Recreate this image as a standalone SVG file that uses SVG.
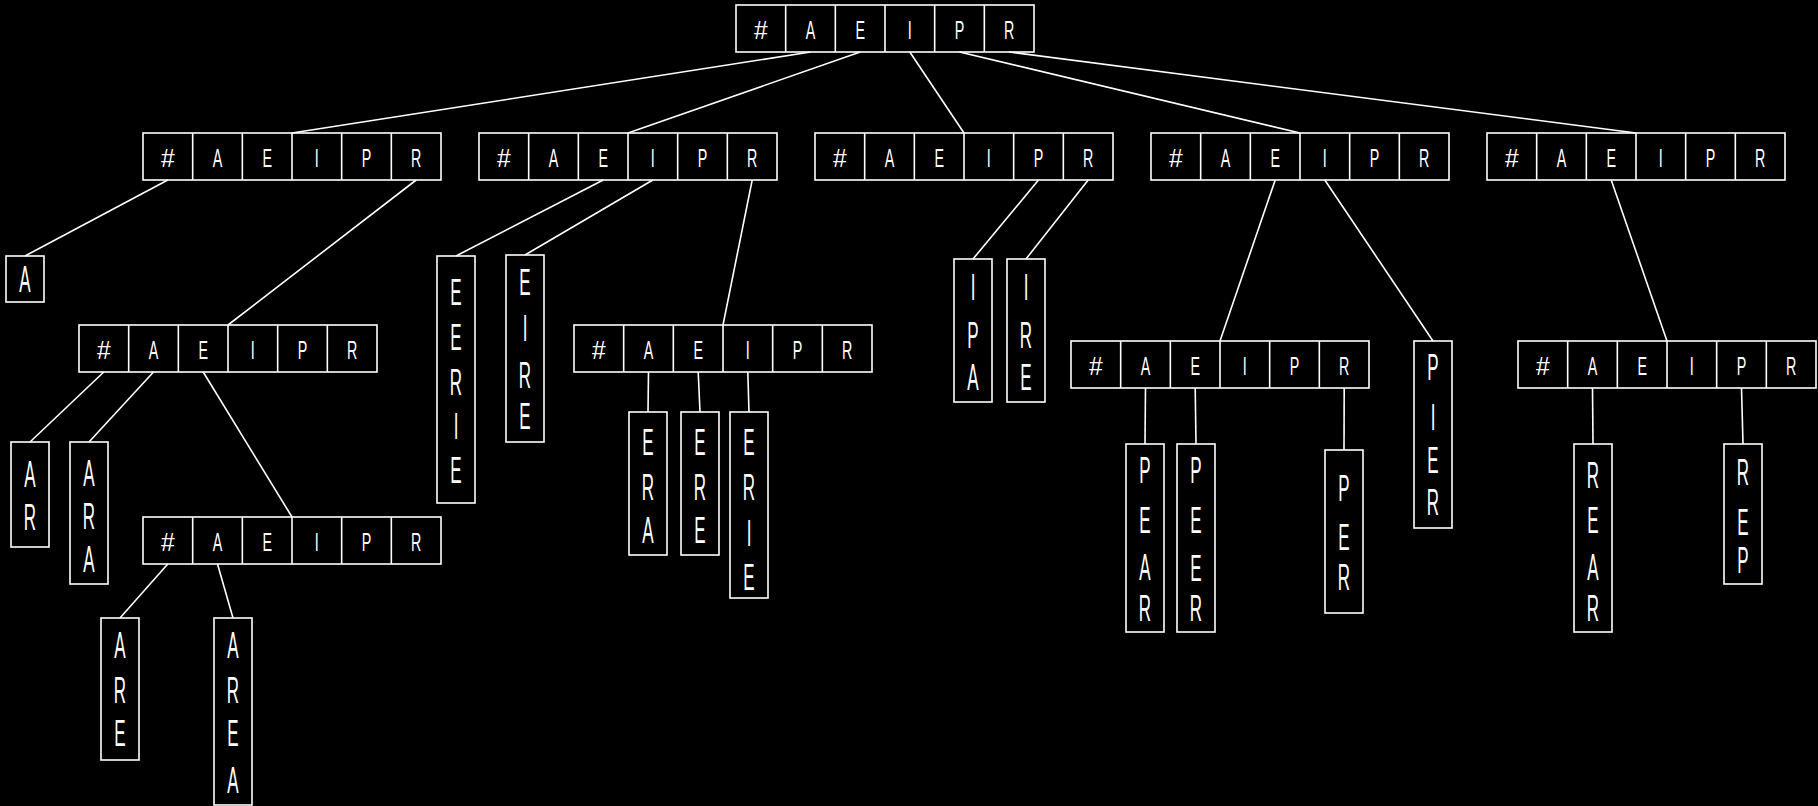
<svg xmlns="http://www.w3.org/2000/svg" width="1818" height="806" viewBox="0 0 1818 806">
<style>
.bg{fill:#000;stroke:none}
g rect,g path,g line{fill:none;stroke:#fff;stroke-width:1.6}
text{fill:#fff;font-family:"Liberation Sans",Arial,sans-serif;text-anchor:middle}
.r text{font-size:26px}
.l text{font-size:37px}
</style>
<rect class="bg" x="0" y="0" width="1818" height="806"/>
<g id="connectors">
<line x1="810.5" y1="52" x2="292" y2="133"/>
<line x1="860.2" y1="52" x2="628" y2="133"/>
<line x1="909.8" y1="52" x2="964" y2="133"/>
<line x1="959.5" y1="52" x2="1300" y2="133"/>
<line x1="1009.2" y1="52" x2="1636" y2="133"/>
<line x1="167.8" y1="180" x2="25" y2="256"/>
<line x1="416.2" y1="180" x2="228" y2="325"/>
<line x1="103.8" y1="372" x2="30" y2="442"/>
<line x1="153.5" y1="372" x2="89" y2="442"/>
<line x1="203.2" y1="372" x2="292" y2="517"/>
<line x1="167.8" y1="564" x2="120" y2="618"/>
<line x1="217.5" y1="564" x2="233" y2="618"/>
<line x1="603.2" y1="180" x2="456" y2="256"/>
<line x1="652.8" y1="180" x2="525" y2="255"/>
<line x1="752.2" y1="180" x2="723" y2="325"/>
<line x1="648.5" y1="372" x2="648" y2="412"/>
<line x1="698.2" y1="372" x2="700" y2="412"/>
<line x1="747.8" y1="372" x2="749" y2="412"/>
<line x1="1038.5" y1="180" x2="973" y2="259"/>
<line x1="1088.2" y1="180" x2="1026" y2="259"/>
<line x1="1275.2" y1="180" x2="1220" y2="341"/>
<line x1="1324.8" y1="180" x2="1433" y2="341"/>
<line x1="1145.5" y1="388" x2="1145" y2="444"/>
<line x1="1195.2" y1="388" x2="1196" y2="444"/>
<line x1="1344.2" y1="388" x2="1344" y2="450"/>
<line x1="1611.2" y1="180" x2="1667" y2="341"/>
<line x1="1592.5" y1="388" x2="1593" y2="444"/>
<line x1="1741.5" y1="388" x2="1743" y2="444"/>
</g>

<g id="root" class="r">
<rect x="736" y="5" width="298" height="47"/>
<path d="M785.67 5v47M835.33 5v47M885 5v47M934.67 5v47M984.33 5v47"/>
<text transform="translate(760.8 39) scale(.95 1)">#</text>
<text transform="translate(810.5 39) scale(.55 1)">A</text>
<text transform="translate(860.2 39) scale(.55 1)">E</text>
<text transform="translate(909.8 39) scale(.55 1)">I</text>
<text transform="translate(959.5 39) scale(.55 1)">P</text>
<text transform="translate(1009.2 39) scale(.55 1)">R</text>
</g>

<g id="n_a" class="r">
<rect x="143" y="133" width="298" height="47"/>
<path d="M192.67 133v47M242.33 133v47M292 133v47M341.67 133v47M391.33 133v47"/>
<text transform="translate(167.8 167) scale(.95 1)">#</text>
<text transform="translate(217.5 167) scale(.55 1)">A</text>
<text transform="translate(267.2 167) scale(.55 1)">E</text>
<text transform="translate(316.8 167) scale(.55 1)">I</text>
<text transform="translate(366.5 167) scale(.55 1)">P</text>
<text transform="translate(416.2 167) scale(.55 1)">R</text>
</g>

<g id="n_e" class="r">
<rect x="479" y="133" width="298" height="47"/>
<path d="M528.67 133v47M578.33 133v47M628 133v47M677.67 133v47M727.33 133v47"/>
<text transform="translate(503.8 167) scale(.95 1)">#</text>
<text transform="translate(553.5 167) scale(.55 1)">A</text>
<text transform="translate(603.2 167) scale(.55 1)">E</text>
<text transform="translate(652.8 167) scale(.55 1)">I</text>
<text transform="translate(702.5 167) scale(.55 1)">P</text>
<text transform="translate(752.2 167) scale(.55 1)">R</text>
</g>

<g id="n_i" class="r">
<rect x="815" y="133" width="298" height="47"/>
<path d="M864.67 133v47M914.33 133v47M964 133v47M1013.67 133v47M1063.33 133v47"/>
<text transform="translate(839.8 167) scale(.95 1)">#</text>
<text transform="translate(889.5 167) scale(.55 1)">A</text>
<text transform="translate(939.2 167) scale(.55 1)">E</text>
<text transform="translate(988.8 167) scale(.55 1)">I</text>
<text transform="translate(1038.5 167) scale(.55 1)">P</text>
<text transform="translate(1088.2 167) scale(.55 1)">R</text>
</g>

<g id="n_p" class="r">
<rect x="1151" y="133" width="298" height="47"/>
<path d="M1200.67 133v47M1250.33 133v47M1300 133v47M1349.67 133v47M1399.33 133v47"/>
<text transform="translate(1175.8 167) scale(.95 1)">#</text>
<text transform="translate(1225.5 167) scale(.55 1)">A</text>
<text transform="translate(1275.2 167) scale(.55 1)">E</text>
<text transform="translate(1324.8 167) scale(.55 1)">I</text>
<text transform="translate(1374.5 167) scale(.55 1)">P</text>
<text transform="translate(1424.2 167) scale(.55 1)">R</text>
</g>

<g id="n_r" class="r">
<rect x="1487" y="133" width="298" height="47"/>
<path d="M1536.67 133v47M1586.33 133v47M1636 133v47M1685.67 133v47M1735.33 133v47"/>
<text transform="translate(1511.8 167) scale(.95 1)">#</text>
<text transform="translate(1561.5 167) scale(.55 1)">A</text>
<text transform="translate(1611.2 167) scale(.55 1)">E</text>
<text transform="translate(1660.8 167) scale(.55 1)">I</text>
<text transform="translate(1710.5 167) scale(.55 1)">P</text>
<text transform="translate(1760.2 167) scale(.55 1)">R</text>
</g>

<g id="n_ar" class="r">
<rect x="79" y="325" width="298" height="47"/>
<path d="M128.67 325v47M178.33 325v47M228 325v47M277.67 325v47M327.33 325v47"/>
<text transform="translate(103.8 359) scale(.95 1)">#</text>
<text transform="translate(153.5 359) scale(.55 1)">A</text>
<text transform="translate(203.2 359) scale(.55 1)">E</text>
<text transform="translate(252.8 359) scale(.55 1)">I</text>
<text transform="translate(302.5 359) scale(.55 1)">P</text>
<text transform="translate(352.2 359) scale(.55 1)">R</text>
</g>

<g id="n_are" class="r">
<rect x="143" y="517" width="298" height="47"/>
<path d="M192.67 517v47M242.33 517v47M292 517v47M341.67 517v47M391.33 517v47"/>
<text transform="translate(167.8 551) scale(.95 1)">#</text>
<text transform="translate(217.5 551) scale(.55 1)">A</text>
<text transform="translate(267.2 551) scale(.55 1)">E</text>
<text transform="translate(316.8 551) scale(.55 1)">I</text>
<text transform="translate(366.5 551) scale(.55 1)">P</text>
<text transform="translate(416.2 551) scale(.55 1)">R</text>
</g>

<g id="n_er" class="r">
<rect x="574" y="325" width="298" height="47"/>
<path d="M623.67 325v47M673.33 325v47M723 325v47M772.67 325v47M822.33 325v47"/>
<text transform="translate(598.8 359) scale(.95 1)">#</text>
<text transform="translate(648.5 359) scale(.55 1)">A</text>
<text transform="translate(698.2 359) scale(.55 1)">E</text>
<text transform="translate(747.8 359) scale(.55 1)">I</text>
<text transform="translate(797.5 359) scale(.55 1)">P</text>
<text transform="translate(847.2 359) scale(.55 1)">R</text>
</g>

<g id="n_pe" class="r">
<rect x="1071" y="341" width="298" height="47"/>
<path d="M1120.67 341v47M1170.33 341v47M1220 341v47M1269.67 341v47M1319.33 341v47"/>
<text transform="translate(1095.8 375) scale(.95 1)">#</text>
<text transform="translate(1145.5 375) scale(.55 1)">A</text>
<text transform="translate(1195.2 375) scale(.55 1)">E</text>
<text transform="translate(1244.8 375) scale(.55 1)">I</text>
<text transform="translate(1294.5 375) scale(.55 1)">P</text>
<text transform="translate(1344.2 375) scale(.55 1)">R</text>
</g>

<g id="n_re" class="r">
<rect x="1518" y="341" width="298" height="47"/>
<path d="M1567.67 341v47M1617.33 341v47M1667 341v47M1716.67 341v47M1766.33 341v47"/>
<text transform="translate(1542.8 375) scale(.95 1)">#</text>
<text transform="translate(1592.5 375) scale(.55 1)">A</text>
<text transform="translate(1642.2 375) scale(.55 1)">E</text>
<text transform="translate(1691.8 375) scale(.55 1)">I</text>
<text transform="translate(1741.5 375) scale(.55 1)">P</text>
<text transform="translate(1791.2 375) scale(.55 1)">R</text>
</g>

<g id="w_a" class="l">
<rect x="6" y="256" width="38" height="46"/>
<text transform="translate(25 292.3) scale(.46 1)">A</text>
</g>
<g id="w_ar" class="l">
<rect x="11" y="442" width="38" height="105"/>
<text transform="translate(30 487.3) scale(.46 1)">A</text>
<text transform="translate(30 530.3) scale(.46 1)">R</text>
</g>
<g id="w_ara" class="l">
<rect x="70" y="442" width="38" height="142"/>
<text transform="translate(89 486.3) scale(.46 1)">A</text>
<text transform="translate(89 529.3) scale(.46 1)">R</text>
<text transform="translate(89 572.3) scale(.46 1)">A</text>
</g>
<g id="w_are" class="l">
<rect x="101" y="618" width="38" height="142"/>
<text transform="translate(120 658.3) scale(.46 1)">A</text>
<text transform="translate(120 703.3) scale(.46 1)">R</text>
<text transform="translate(120 746.3) scale(.46 1)">E</text>
</g>
<g id="w_area" class="l">
<rect x="214" y="618" width="38" height="187"/>
<text transform="translate(233 658.3) scale(.46 1)">A</text>
<text transform="translate(233 703.3) scale(.46 1)">R</text>
<text transform="translate(233 746.3) scale(.46 1)">E</text>
<text transform="translate(233 793.3) scale(.46 1)">A</text>
</g>
<g id="w_eerie" class="l">
<rect x="437" y="256" width="38" height="247"/>
<text transform="translate(456 305.3) scale(.46 1)">E</text>
<text transform="translate(456 350.3) scale(.46 1)">E</text>
<text transform="translate(456 395.3) scale(.46 1)">R</text>
<text transform="translate(456 439.3) scale(.46 1)">I</text>
<text transform="translate(456 483.3) scale(.46 1)">E</text>
</g>
<g id="w_eire" class="l">
<rect x="506" y="255" width="38" height="187"/>
<text transform="translate(525 295.3) scale(.46 1)">E</text>
<text transform="translate(525 341.3) scale(.46 1)">I</text>
<text transform="translate(525 388.3) scale(.46 1)">R</text>
<text transform="translate(525 429.3) scale(.46 1)">E</text>
</g>
<g id="w_era" class="l">
<rect x="629" y="412" width="38" height="143"/>
<text transform="translate(648 455.3) scale(.46 1)">E</text>
<text transform="translate(648 500.3) scale(.46 1)">R</text>
<text transform="translate(648 543.3) scale(.46 1)">A</text>
</g>
<g id="w_ere" class="l">
<rect x="681" y="412" width="38" height="143"/>
<text transform="translate(700 455.3) scale(.46 1)">E</text>
<text transform="translate(700 500.3) scale(.46 1)">R</text>
<text transform="translate(700 543.3) scale(.46 1)">E</text>
</g>
<g id="w_erie" class="l">
<rect x="730" y="412" width="38" height="186"/>
<text transform="translate(749 455.3) scale(.46 1)">E</text>
<text transform="translate(749 500.3) scale(.46 1)">R</text>
<text transform="translate(749 546.3) scale(.46 1)">I</text>
<text transform="translate(749 590.3) scale(.46 1)">E</text>
</g>
<g id="w_ipa" class="l">
<rect x="954" y="259" width="38" height="143"/>
<text transform="translate(973 300.3) scale(.46 1)">I</text>
<text transform="translate(973 348.3) scale(.46 1)">P</text>
<text transform="translate(973 390.3) scale(.46 1)">A</text>
</g>
<g id="w_ire" class="l">
<rect x="1007" y="259" width="38" height="143"/>
<text transform="translate(1026 300.3) scale(.46 1)">I</text>
<text transform="translate(1026 348.3) scale(.46 1)">R</text>
<text transform="translate(1026 390.3) scale(.46 1)">E</text>
</g>
<g id="w_pear" class="l">
<rect x="1126" y="444" width="38" height="188"/>
<text transform="translate(1145 483.3) scale(.46 1)">P</text>
<text transform="translate(1145 533.3) scale(.46 1)">E</text>
<text transform="translate(1145 580.3) scale(.46 1)">A</text>
<text transform="translate(1145 621.3) scale(.46 1)">R</text>
</g>
<g id="w_peer" class="l">
<rect x="1177" y="444" width="38" height="188"/>
<text transform="translate(1196 483.3) scale(.46 1)">P</text>
<text transform="translate(1196 533.3) scale(.46 1)">E</text>
<text transform="translate(1196 581.3) scale(.46 1)">E</text>
<text transform="translate(1196 621.3) scale(.46 1)">R</text>
</g>
<g id="w_per" class="l">
<rect x="1325" y="450" width="38" height="163"/>
<text transform="translate(1344 501.3) scale(.46 1)">P</text>
<text transform="translate(1344 550.3) scale(.46 1)">E</text>
<text transform="translate(1344 590.3) scale(.46 1)">R</text>
</g>
<g id="w_pier" class="l">
<rect x="1414" y="341" width="38" height="187"/>
<text transform="translate(1433 380.3) scale(.46 1)">P</text>
<text transform="translate(1433 430.3) scale(.46 1)">I</text>
<text transform="translate(1433 473.3) scale(.46 1)">E</text>
<text transform="translate(1433 515.3) scale(.46 1)">R</text>
</g>
<g id="w_rear" class="l">
<rect x="1574" y="444" width="38" height="188"/>
<text transform="translate(1593 488.3) scale(.46 1)">R</text>
<text transform="translate(1593 533.3) scale(.46 1)">E</text>
<text transform="translate(1593 580.3) scale(.46 1)">A</text>
<text transform="translate(1593 621.3) scale(.46 1)">R</text>
</g>
<g id="w_rep" class="l">
<rect x="1724" y="444" width="38" height="140"/>
<text transform="translate(1743 485.3) scale(.46 1)">R</text>
<text transform="translate(1743 535.3) scale(.46 1)">E</text>
<text transform="translate(1743 573.3) scale(.46 1)">P</text>
</g>
</svg>
